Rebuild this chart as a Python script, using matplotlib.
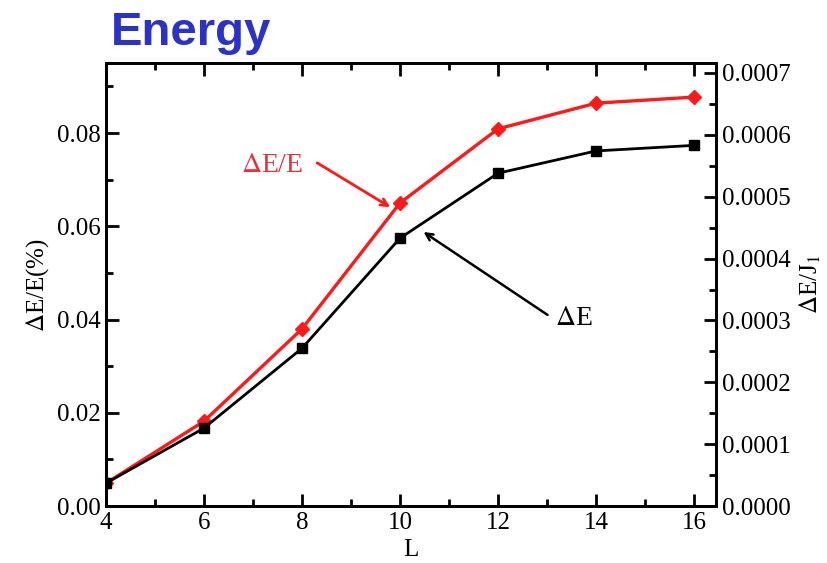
import matplotlib.pyplot as plt
from matplotlib.ticker import MultipleLocator, FormatStrFormatter

# system size and the two energy measures
L = [4, 6, 8, 10, 12, 14, 16]
rel_err = [0.0049, 0.0182, 0.0380, 0.0650, 0.0809, 0.0864, 0.0877]    # dE/E (%)
abs_err = [0.000037, 0.000126, 0.000255, 0.000433, 0.000538, 0.000574, 0.000583]  # dE/J1

serif = ['Liberation Serif', 'DejaVu Serif']
plt.rcParams['font.family'] = serif
plt.rcParams['mathtext.fontset'] = 'stix'

fig = plt.figure(figsize=(8.27, 5.63), dpi=100)
ax = fig.add_axes([0.128, 0.101, 0.738, 0.787])
ax2 = ax.twinx()

ax.plot(L, rel_err, color='#ff1a1a', lw=2.4, marker='D', ms=7, zorder=3)
ax2.plot(L, abs_err, color='black', lw=2.0, marker='s', ms=7, zorder=3)

ax.set_xlim(4, 16.45)
ax.set_ylim(0, 0.095)
ax2.set_ylim(0, 0.000716)

ax.xaxis.set_major_locator(MultipleLocator(2))
ax.xaxis.set_minor_locator(MultipleLocator(1))
ax.yaxis.set_major_locator(MultipleLocator(0.02))
ax.yaxis.set_minor_locator(MultipleLocator(0.01))
ax.yaxis.set_major_formatter(FormatStrFormatter('%.2f'))
ax2.yaxis.set_major_locator(MultipleLocator(0.0001))
ax2.yaxis.set_minor_locator(MultipleLocator(0.00005))
ax2.yaxis.set_major_formatter(FormatStrFormatter('%.4f'))

ax.tick_params(which='both', direction='in', top=True, right=False,
               width=2, labelsize=18, pad=4)
ax.tick_params(which='major', length=9)
ax.tick_params(which='minor', length=5)
ax2.tick_params(which='both', direction='in', width=2, labelsize=18, pad=4)
ax2.tick_params(which='major', length=9)
ax2.tick_params(which='minor', length=5)
for a in (ax, ax2):
    for s in a.spines.values():
        s.set_linewidth(2)

ax.set_xlabel('L', fontsize=18, labelpad=4)
ax.set_ylabel(r'$\Delta$E/E(%)', fontsize=18, labelpad=4)
ax2.set_ylabel(r'$\Delta$E/J$_1$', fontsize=18, rotation=90, labelpad=5)

# curve labels with arrows
ax.text(7.4, 0.0731, r'$\Delta$E/E', color='#e8303c', fontsize=20,
        ha='center', va='center')
ax.annotate('', xy=(9.80, 0.0641), xytext=(8.31, 0.0736),
            arrowprops=dict(arrowstyle='->,head_length=0.5,head_width=0.25',
                            color='#ff1a1a', lw=2, shrinkA=0, shrinkB=0))
ax2.text(13.55, 0.000304, r'$\Delta$E', color='black', fontsize=20,
         ha='center', va='center')
ax2.annotate('', xy=(10.48, 0.000443), xytext=(13.01, 0.000309),
             arrowprops=dict(arrowstyle='->,head_length=0.5,head_width=0.25',
                             color='black', lw=1.8, shrinkA=0, shrinkB=0))

fig.text(0.134, 0.92, 'Energy', color='#2b33c6', fontsize=34,
         fontweight='bold', family=['Liberation Sans', 'DejaVu Sans'],
         ha='left', va='baseline')

fig.savefig('out.png', dpi=100, facecolor='white')
